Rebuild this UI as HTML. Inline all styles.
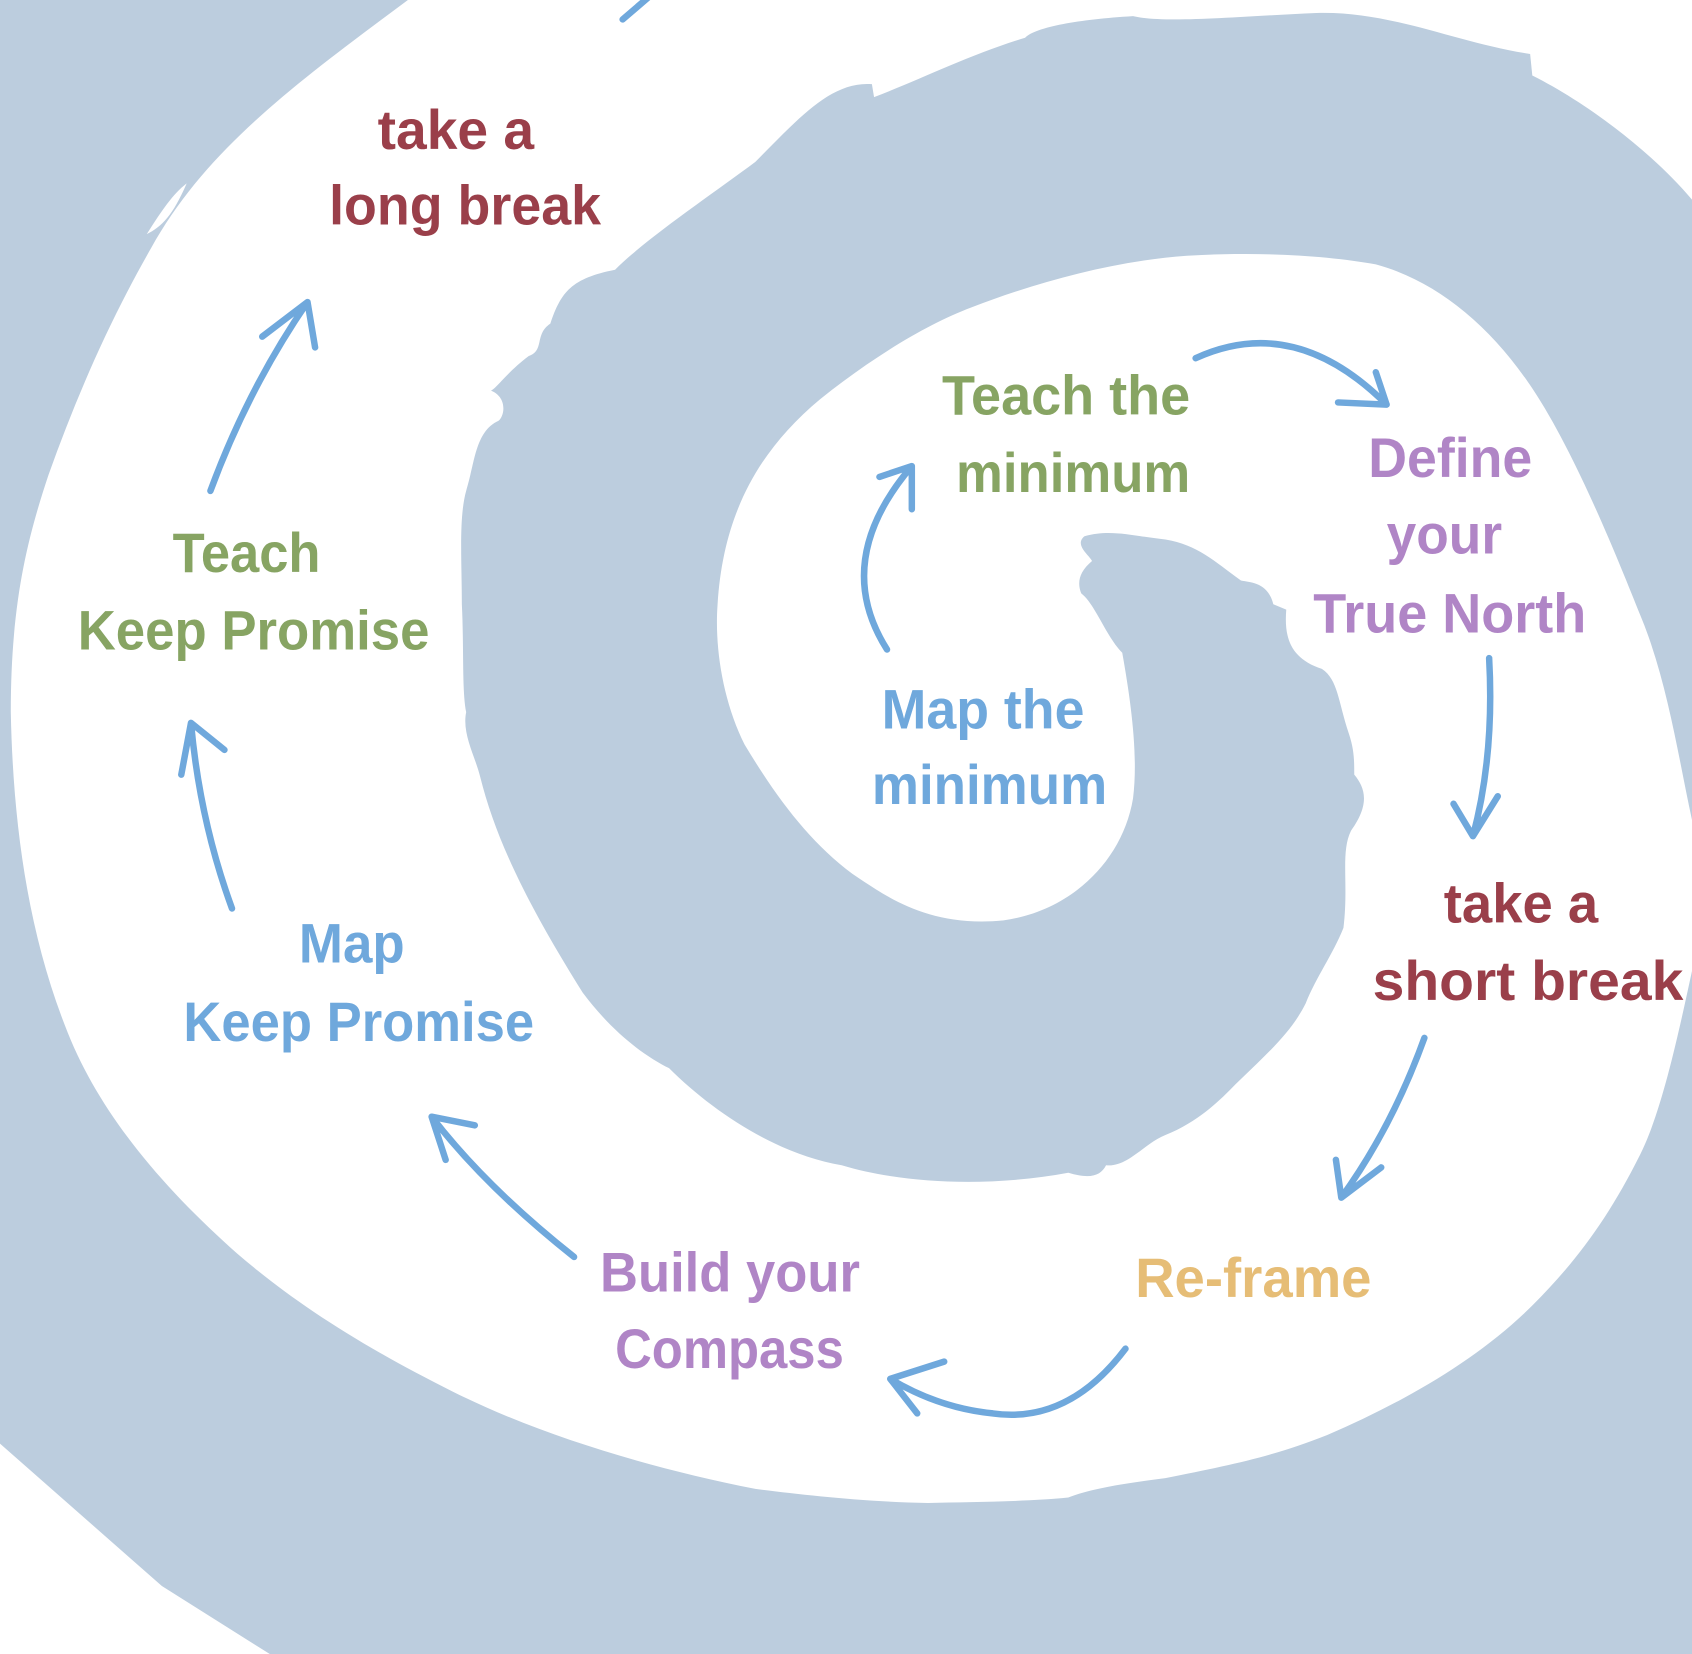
<!DOCTYPE html>
<html><head><meta charset="utf-8"><style>
html,body{margin:0;padding:0;background:#bccdde}
svg{display:block}
text{font-family:"Liberation Sans",sans-serif;font-weight:bold;font-size:52px}
</style></head><body>
<svg width="1692" height="1654" viewBox="0 0 1568 1533" preserveAspectRatio="none" xmlns="http://www.w3.org/2000/svg">
<rect width="1568" height="1533" fill="#bccdde"/>
<path fill="#fff" d="M378,0 L1568,0 L1568,185
C1530,140 1470,95 1420,70 L1418,50 C1350,40 1290,10 1220,12 C1150,15 1080,22 1050,15 C1000,18 960,25 950,35 C900,50 850,75 810,90 L808,78
C770,75 740,110 700,150 C660,180 600,220 570,250 C530,258 520,270 510,300 C495,310 505,325 490,330 C470,345 460,360 455,362 C470,368 468,385 462,390 C440,400 440,430 432,455 C425,480 428,520 428,560 C430,600 428,640 432,660 C428,680 440,700 445,720 C460,780 490,840 540,920 C570,960 600,980 620,990 C660,1030 720,1070 780,1080 C840,1098 920,1100 990,1087 C1010,1093 1020,1090 1025,1080 C1045,1082 1060,1060 1080,1052 C1110,1040 1130,1020 1140,1010 C1170,980 1195,960 1210,930 C1220,905 1235,885 1245,860 C1250,820 1242,790 1252,770 C1270,745 1265,730 1255,718 C1255,705 1255,695 1250,680 C1240,650 1240,630 1225,620 C1195,610 1190,590 1192,565 L1180,560 C1175,540 1160,540 1150,538 C1125,520 1110,505 1080,500 C1050,497 1030,490 1005,497 C995,505 1010,515 1012,520 C1000,530 998,540 1002,550 C1015,560 1025,590 1040,605 C1048,650 1055,700 1050,740 C1040,800 990,845 930,853 C860,860 820,830 790,810 C750,780 720,740 690,690 C670,650 662,600 665,560 C670,480 700,420 760,370 C810,330 860,300 900,285 C960,262 1030,242 1100,237 C1170,233 1230,237 1275,245 C1330,260 1380,300 1420,360 C1460,420 1500,520 1520,570 C1545,630 1555,700 1568,760
L1568,900 C1555,960 1540,1030 1520,1070 C1490,1130 1460,1170 1420,1210 C1370,1260 1300,1300 1230,1330 C1180,1350 1140,1358 1080,1370 C1040,1375 1010,1380 990,1388 C950,1392 900,1392 860,1393 C800,1392 740,1385 700,1380 C600,1360 500,1330 420,1290 C330,1245 270,1205 220,1162 C150,1100 90,1030 60,950 C25,860 12,760 10,660 C10,560 25,500 45,440 C70,370 100,300 140,230 C190,140 270,80 378,0 Z"/>
<path fill="#fff" d="M136,217 C150,195 160,180 173,170 C160,200 150,210 136,217 Z"/>
<path fill="#fff" d="M0,1338 L150,1470 L250,1533 L0,1533 Z"/>
<g fill="none" stroke="#6fa8dc" stroke-width="6" stroke-linecap="round" stroke-linejoin="round">
<path d="M577,18 L605,-6"/>
<path d="M195,455 Q230,360 285,280 M243,312 L285,280 L292,322"/>
<path d="M215,842 Q185,760 177,670 M168,718 L177,670 L208,695"/>
<path d="M532,1165 Q450,1100 400,1035 M440,1043 L400,1035 L413,1075"/>
<path d="M1043,1250 Q990,1320 920,1310 Q870,1305 825,1278 M875,1262 L825,1278 L850,1310"/>
<path d="M1320,962 Q1290,1045 1243,1110 M1238,1075 L1243,1110 L1280,1082"/>
<path d="M1380,610 Q1385,700 1365,775 M1347,745 L1365,775 L1388,738"/>
<path d="M1108,332 Q1200,290 1285,375 M1275,345 L1285,375 L1240,373"/>
<path d="M822,602 Q770,520 845,432 M815,442 L845,432 L845,472"/>
</g>
<g fill="#9a3f4a">
<text x="350" y="138" textLength="145" lengthAdjust="spacingAndGlyphs">take a</text>
<text x="305" y="208" textLength="252" lengthAdjust="spacingAndGlyphs">long break</text>
<text x="1338" y="855" textLength="143" lengthAdjust="spacingAndGlyphs">take a</text>
<text x="1272" y="927" textLength="288" lengthAdjust="spacingAndGlyphs">short  break</text>
</g>
<g fill="#87a463">
<text x="160" y="530" textLength="137" lengthAdjust="spacingAndGlyphs">Teach</text>
<text x="72" y="602" textLength="326" lengthAdjust="spacingAndGlyphs">Keep Promise</text>
<text x="873" y="384" textLength="230" lengthAdjust="spacingAndGlyphs">Teach the</text>
<text x="886" y="456" textLength="217" lengthAdjust="spacingAndGlyphs">minimum</text>
</g>
<g fill="#6fa8dc">
<text x="277" y="892" textLength="98" lengthAdjust="spacingAndGlyphs">Map</text>
<text x="170" y="965" textLength="325" lengthAdjust="spacingAndGlyphs">Keep Promise</text>
<text x="817" y="675" textLength="188" lengthAdjust="spacingAndGlyphs">Map the</text>
<text x="808" y="745" textLength="218" lengthAdjust="spacingAndGlyphs">minimum</text>
</g>
<g fill="#b085c6">
<text x="556" y="1197" textLength="241" lengthAdjust="spacingAndGlyphs">Build your</text>
<text x="570" y="1268" textLength="212" lengthAdjust="spacingAndGlyphs">Compass</text>
<text x="1268" y="442" textLength="152" lengthAdjust="spacingAndGlyphs">Define</text>
<text x="1285" y="513" textLength="107" lengthAdjust="spacingAndGlyphs">your</text>
<text x="1217" y="586" textLength="253" lengthAdjust="spacingAndGlyphs">True North</text>
</g>
<text x="1052" y="1202" fill="#e6bd76" textLength="219" lengthAdjust="spacingAndGlyphs">Re-frame</text>
</svg>
</body></html>
